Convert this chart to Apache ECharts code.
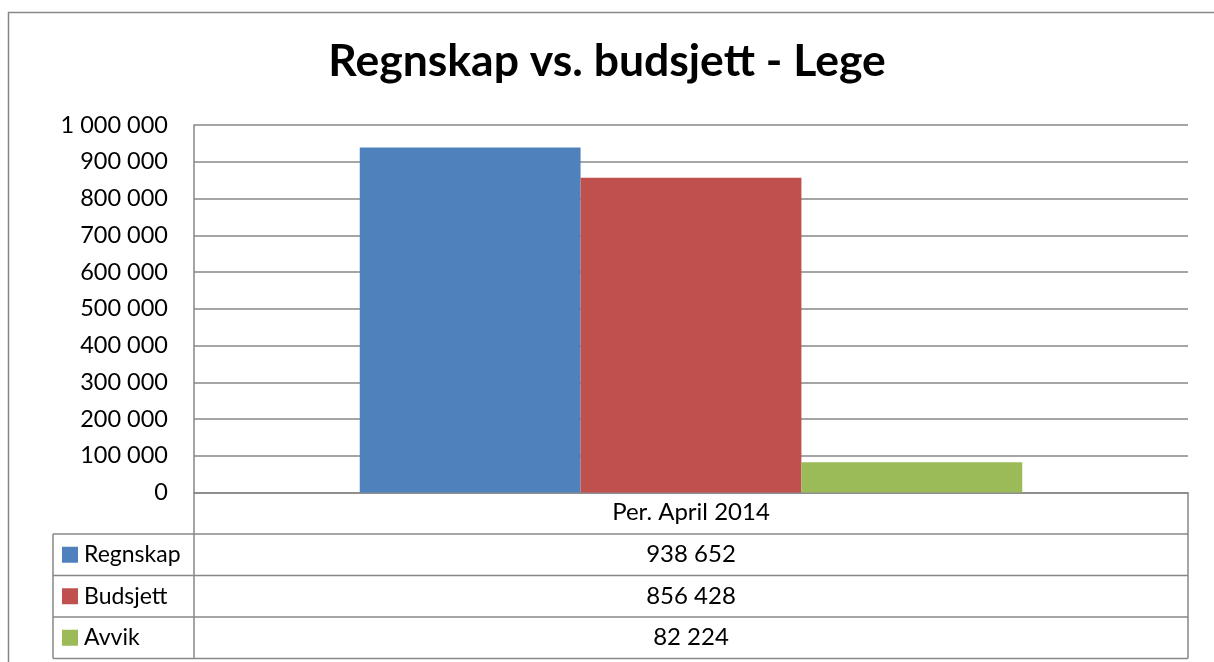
<!DOCTYPE html>
<html>
<head>
<meta charset="utf-8">
<script src="https://cdn.jsdelivr.net/npm/echarts@6/dist/echarts.min.js"></script>
<style>
html,body{margin:0;padding:0;background:#fff;}
#chart{width:1214px;height:662px;}
</style>
</head>
<body>
<div id="chart"></div>
<script>
const titleText = 'Regnskap vs. budsjett - Lege';
const categories = ['Per. April 2014'];
const seriesNames = ['Regnskap', 'Budsjett', 'Avvik'];
const regnskap = [938652];
const budsjett = [856428];
const avvik = [82224];
const seriesColors = ['#4F81BD', '#C0504D', '#9BBB59'];
const yMin = 0, yMax = 1000000, yStep = 100000;

const FONT = 'Lato';
const GRID = {left: 194, top: 125, right: 1188, bottom: 492.5};
const ROW_H = 41.5;
const LEG_LEFT = 53;
const LINE = '#878787';

function fmt(n){ return String(n).replace(/\B(?=(\d{3})+(?!\d))/g, ' '); }

const allValues = [regnskap, budsjett, avvik];

const chart = echarts.init(document.getElementById('chart'), null, {renderer: 'canvas'});

const graphics = [];
const nRows = seriesNames.length + 1;
const tableBottom = GRID.bottom + ROW_H * nRows;
// outer chart border (cut off at right and bottom)
graphics.push({type: 'rect', shape: {x: 8.5, y: 12.5, width: 1400, height: 1000}, style: {fill: 'none', stroke: LINE, lineWidth: 1.5}, silent: true});
// table horizontal lines
for (let i = 1; i <= seriesNames.length + 1; i++) {
  const y = GRID.bottom + ROW_H * i;
  graphics.push({type: 'line', shape: {x1: LEG_LEFT, y1: y, x2: GRID.right, y2: y}, style: {stroke: LINE, lineWidth: 1.5}, silent: true});
}
// vertical lines
graphics.push({type: 'line', shape: {x1: LEG_LEFT, y1: GRID.bottom + ROW_H, x2: LEG_LEFT, y2: tableBottom}, style: {stroke: LINE, lineWidth: 1.5}, silent: true});
graphics.push({type: 'line', shape: {x1: GRID.left, y1: GRID.bottom, x2: GRID.left, y2: tableBottom}, style: {stroke: LINE, lineWidth: 1.5}, silent: true});
graphics.push({type: 'line', shape: {x1: GRID.right, y1: GRID.bottom, x2: GRID.right, y2: tableBottom}, style: {stroke: LINE, lineWidth: 1.5}, silent: true});
// legend keys, names and values
seriesNames.forEach((name, i) => {
  const cy = GRID.bottom + ROW_H * (i + 1) + ROW_H / 2;
  graphics.push({type: 'rect', shape: {x: 62, y: cy - 8, width: 16, height: 16}, style: {fill: seriesColors[i]}, silent: true});
  graphics.push({type: 'text', x: 84, y: cy, style: {text: name, font: '23px ' + FONT, fill: '#000', textVerticalAlign: 'middle', textAlign: 'left'}, silent: true});
  const cw = (GRID.right - GRID.left) / categories.length;
  allValues[i].forEach((v, j) => {
    graphics.push({type: 'text', x: GRID.left + cw * (j + 0.5), y: cy, style: {text: fmt(v), font: '24px ' + FONT, fill: '#000', textVerticalAlign: 'middle', textAlign: 'center'}, silent: true});
  });
});

const option = {
  backgroundColor: '#fff',
  animation: false,
  title: {
    text: titleText, left: 'center', top: 34,
    textStyle: {fontFamily: FONT, fontSize: 44.5, fontWeight: 'bold', color: '#000'}
  },
  grid: {left: GRID.left, top: GRID.top, right: 1214 - GRID.right, bottom: 662 - GRID.bottom, containLabel: false},
  xAxis: {
    type: 'category', data: categories,
    axisLine: {show: true, lineStyle: {color: LINE, width: 1.5}},
    axisTick: {show: false},
    axisLabel: {fontFamily: FONT, fontSize: 24, color: '#000', margin: 8}
  },
  yAxis: {
    type: 'value', min: yMin, max: yMax, interval: yStep,
    axisLine: {show: true, lineStyle: {color: LINE, width: 1.5}},
    axisTick: {show: false},
    splitLine: {show: true, lineStyle: {color: LINE, width: 1.5}},
    axisLabel: {fontFamily: FONT, fontSize: 23.5, color: '#000', margin: 26, formatter: v => fmt(v)}
  },
  series: seriesNames.map((name, i) => ({
    name: name, type: 'bar', data: allValues[i],
    itemStyle: {color: seriesColors[i]},
    barGap: '0%', barCategoryGap: '33.35%'
  })),
  graphic: graphics
};
chart.setOption(option);
</script>
</body>
</html>
